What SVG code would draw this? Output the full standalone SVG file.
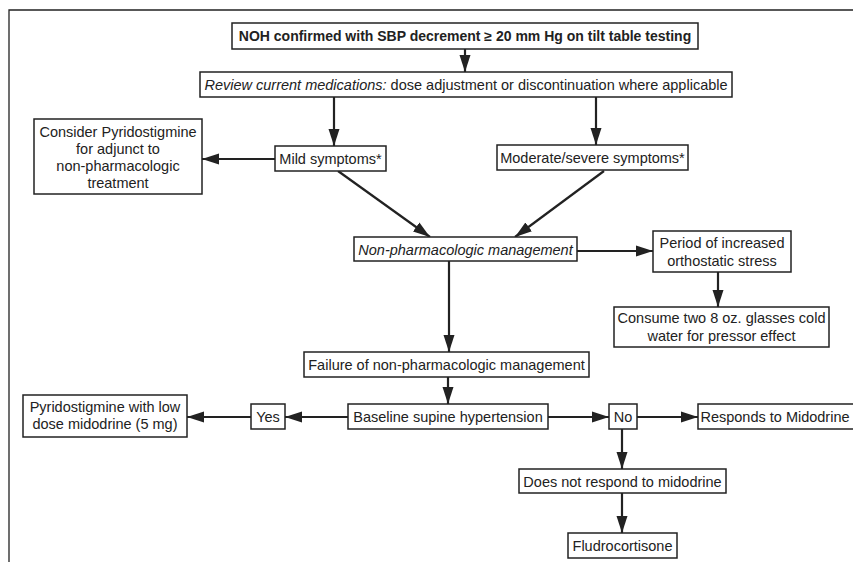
<svg xmlns="http://www.w3.org/2000/svg" width="853" height="562" viewBox="0 0 853 562">
<style>
.box{fill:#fff;stroke:#222;stroke-width:1.5}
.t{font-family:"Liberation Sans",Arial,sans-serif;font-size:14.5px;fill:#222;text-anchor:middle}
.b{font-weight:bold;font-size:14px}
.i{font-style:italic}
.c{stroke:#222;stroke-width:2.2;fill:none;marker-end:url(#ah)}
.frame{stroke:#222;stroke-width:1.3;fill:none}
</style>
<defs>
<marker id="ah" markerUnits="userSpaceOnUse" markerWidth="18" markerHeight="12" refX="17" refY="6" orient="auto">
<path d="M0,0.5 L17,6 L0,11.5 z" fill="#222"/>
</marker>
</defs>
<rect width="853" height="562" fill="#fff"/>
<path class="frame" d="M9,562 V10 H853"/>
<g id="connectors">
<line class="c" x1="465" y1="49" x2="465" y2="72"/>
<line class="c" x1="334" y1="97" x2="334" y2="146"/>
<line class="c" x1="596" y1="97" x2="596" y2="145"/>
<line class="c" x1="275" y1="159" x2="202" y2="159"/>
<line class="c" x1="338" y1="171" x2="430" y2="237"/>
<line class="c" x1="604" y1="171" x2="515" y2="237"/>
<line class="c" x1="577" y1="251" x2="653" y2="251"/>
<line class="c" x1="718" y1="272" x2="718" y2="307"/>
<line class="c" x1="449" y1="261" x2="449" y2="352"/>
<line class="c" x1="448" y1="377" x2="448" y2="404"/>
<line class="c" x1="348" y1="417" x2="285" y2="417"/>
<line class="c" x1="251" y1="417" x2="187" y2="417"/>
<line class="c" x1="548" y1="417" x2="609" y2="417"/>
<line class="c" x1="637" y1="417" x2="698" y2="417"/>
<line class="c" x1="622" y1="429" x2="622" y2="469"/>
<line class="c" x1="622" y1="493" x2="622" y2="533"/>
</g>
<g id="noh"><rect class="box" x="232" y="23" width="466" height="26"/><text class="t b" x="465" y="41">NOH confirmed with SBP decrement ≥ 20 mm Hg on tilt table testing</text></g>
<g id="review"><rect class="box" x="200" y="72" width="532" height="25"/><text class="t" x="466" y="90"><tspan class="i">Review current medications:</tspan> dose adjustment or discontinuation where applicable</text></g>
<g id="consider"><rect class="box" x="34" y="119" width="168" height="75"/><text class="t" x="118" y="137">Consider Pyridostigmine</text><text class="t" x="118" y="154">for adjunct to</text><text class="t" x="118" y="171">non-pharmacologic</text><text class="t" x="118" y="188">treatment</text></g>
<g id="mild"><rect class="box" x="275" y="146" width="111" height="25"/><text class="t" x="330.5" y="164">Mild symptoms*</text></g>
<g id="moderate"><rect class="box" x="497" y="145" width="191" height="25"/><text class="t" x="592.5" y="163">Moderate/severe symptoms*</text></g>
<g id="nonpharm"><rect class="box" x="354" y="237" width="223" height="24"/><text class="t i" x="465.5" y="254.5">Non-pharmacologic management</text></g>
<g id="period"><rect class="box" x="653" y="231" width="138" height="41"/><text class="t" x="722" y="248">Period of increased</text><text class="t" x="722" y="266">orthostatic stress</text></g>
<g id="consume"><rect class="box" x="614" y="307" width="215" height="40"/><text class="t" x="721.5" y="323">Consume two 8 oz. glasses cold</text><text class="t" x="721.5" y="341">water for pressor effect</text></g>
<g id="failure"><rect class="box" x="304" y="352" width="285" height="25"/><text class="t" x="446.5" y="370">Failure of non-pharmacologic management</text></g>
<g id="baseline"><rect class="box" x="348" y="404" width="200" height="25"/><text class="t" x="448" y="422">Baseline supine hypertension</text></g>
<g id="yes"><rect class="box" x="251" y="404" width="34" height="25"/><text class="t" x="268" y="422">Yes</text></g>
<g id="pyrido"><rect class="box" x="23" y="395" width="164" height="42"/><text class="t" x="105" y="412">Pyridostigmine with low</text><text class="t" x="105" y="429">dose midodrine (5 mg)</text></g>
<g id="no"><rect class="box" x="609" y="404" width="28" height="25"/><text class="t" x="623" y="422">No</text></g>
<g id="responds"><rect class="box" x="698" y="404" width="156" height="25"/><text class="t" x="775" y="422">Responds to Midodrine</text></g>
<g id="doesnot"><rect class="box" x="519" y="469" width="207" height="24"/><text class="t" x="622.5" y="486.5">Does not respond to midodrine</text></g>
<g id="fludro"><rect class="box" x="568" y="533" width="109" height="25"/><text class="t" x="622.5" y="551">Fludrocortisone</text></g>
</svg>
